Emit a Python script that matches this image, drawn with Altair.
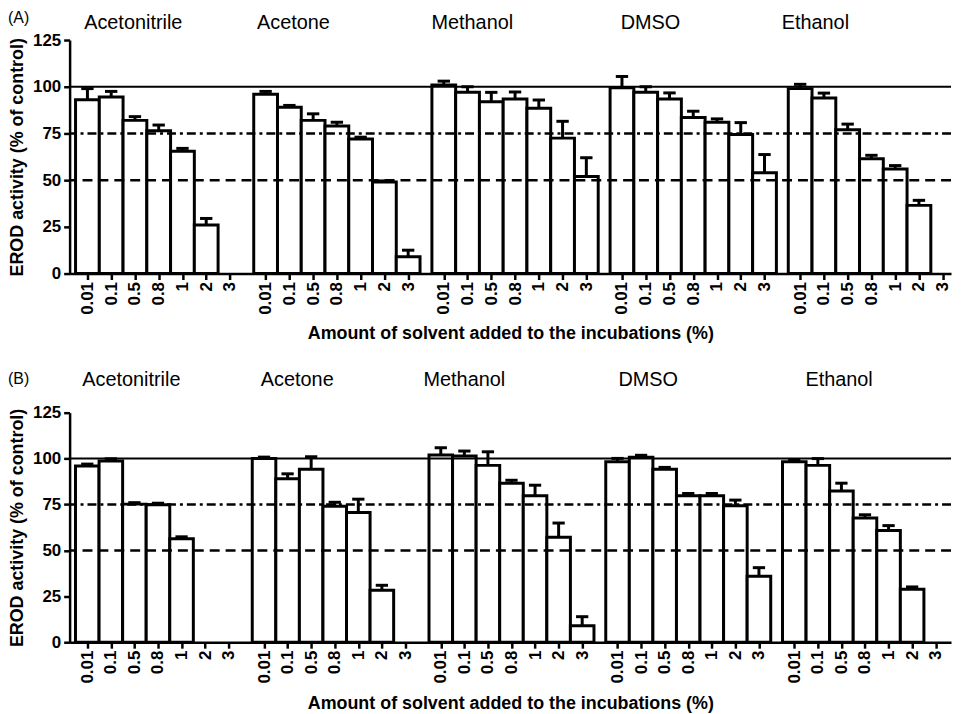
import json
import altair as alt
import pandas as pd

# ---------------- data ----------------
levels = ["0.01", "0.1", "0.5", "0.8", "1", "2", "3"]
solvents = ["Acetonitrile", "Acetone", "Methanol", "DMSO", "Ethanol"]

# Panel A : mean and upper error (None = no bar)
a_acetonitrile = [93, 94.5, 82, 76.5, 65.5, 26, None]
a_acetonitrile_err = [6, 3, 2, 3, 1.5, 3.5, None]
a_acetone = [96, 89, 82, 79, 72, 49, 9]
a_acetone_err = [1.5, 1, 3.5, 2, 1, 0.6, 3.5]
a_methanol = [101, 97, 92, 93.5, 88.5, 72.5, 52]
a_methanol_err = [2, 3, 5, 3.7, 4.4, 9, 10]
a_dmso = [99.5, 97, 93.5, 83.5, 81, 74.5, 54]
a_dmso_err = [6, 3, 3.2, 3.4, 1.8, 6.3, 9.7]
a_ethanol = [99, 94, 77, 61.5, 56, 36.5, None]
a_ethanol_err = [2.3, 2.6, 3, 1.8, 1.8, 2.7, None]

# Panel B
b_acetonitrile = [96, 98.7, 75.2, 74.9, 56.3, None, None]
b_acetonitrile_err = [1, 1.2, 0.8, 0.8, 1.1, None, None]
b_acetone = [100, 89, 94.2, 74, 70.7, 28.3, None]
b_acetone_err = [0.8, 2.7, 6.8, 2.2, 7.2, 2.7, None]
b_methanol = [101.9, 101.4, 96.3, 86.6, 79.7, 57.2, 9]
b_methanol_err = [4, 2.7, 7.4, 1.6, 5.8, 7.7, 4.9]
b_dmso = [98.3, 100.8, 94.2, 79.7, 79.7, 74.3, 35.9]
b_dmso_err = [1.8, 1, 1, 1.3, 1.3, 3.1, 4.7]
b_ethanol = [98.3, 96.3, 82.4, 67.6, 60.8, 28.8, None]
b_ethanol_err = [1, 3.7, 4.2, 1.8, 2.7, 1.3, None]

reference_levels = [100, 75, 50]

# ---------------- layout constants ----------------
GROUP_STEP = 7.5
label_x_a = [1.93, 8.67, 16.2, 23.7, 30.64]
label_x_b = [1.87, 8.91, 16.0, 23.8, 31.9]
FONT = "Liberation Sans"


def build_df(means, errs):
    rows = []
    for g, (m, e) in enumerate(zip(means, errs)):
        for i, lvl in enumerate(levels):
            pos = g * GROUP_STEP + i
            if m[i] is None:
                continue
            rows.append(dict(solvent=solvents[g], level=lvl, pos=pos,
                             x0=pos - 0.5, x1=pos + 0.5,
                             cl=pos - 0.26, cr=pos + 0.26,
                             base=0, val=m[i], top=m[i] + (e[i] or 0)))
    return pd.DataFrame(rows)


df_a = build_df([a_acetonitrile, a_acetone, a_methanol, a_dmso, a_ethanol],
                [a_acetonitrile_err, a_acetone_err, a_methanol_err, a_dmso_err, a_ethanol_err])
df_b = build_df([b_acetonitrile, b_acetone, b_methanol, b_dmso, b_ethanol],
                [b_acetonitrile_err, b_acetone_err, b_methanol_err, b_dmso_err, b_ethanol_err])

tick_positions = [g * GROUP_STEP + i for g in range(len(solvents)) for i in range(len(levels))]
label_expr = json.dumps(levels) + "[round(datum.value % " + str(GROUP_STEP) + ")]"


def panel(df, tag, label_x, height, xmax, label_dy, tag_dy, title_pad):
    xs = alt.Scale(domain=[-0.75, xmax], nice=False, zero=False, padding=0)
    ys = alt.Scale(domain=[0, 125], nice=False, padding=0)
    xaxis = alt.Axis(values=tick_positions, labelExpr=label_expr, labelAngle=-90,
                     labelFontSize=17, labelPadding=2, tickSize=6,
                     title="Amount of solvent added to the incubations (%)",
                     titlePadding=title_pad)
    yaxis = alt.Axis(values=[0, 25, 50, 75, 100, 125], labelFontSize=17,
                     labelPadding=3, tickSize=6,
                     title="EROD activity (% of control)", titlePadding=6)

    def X(f):
        return alt.X(f, type="quantitative", scale=xs, axis=xaxis)

    def Y(f):
        return alt.Y(f, type="quantitative", scale=ys, axis=yaxis)

    bars = alt.Chart(df).mark_rect(fill="white", stroke="black", strokeWidth=3).encode(
        x=X("x0"), x2="x1", y=Y("base"), y2="val")
    stems = alt.Chart(df).mark_rule(color="black", strokeWidth=3).encode(
        x=X("pos"), y=Y("val"), y2="top")
    caps = alt.Chart(df).mark_rule(color="black", strokeWidth=3).encode(
        x=X("cl"), x2="cr", y=Y("top"))

    refdf = pd.DataFrame({"y": reference_levels})
    solid = alt.Chart(refdf[refdf.y == reference_levels[0]]).mark_rule(
        color="black", strokeWidth=2).encode(y=Y("y"))
    dashdot = alt.Chart(refdf[refdf.y == reference_levels[1]]).mark_rule(
        color="black", strokeWidth=2.5, strokeDash=[9, 4, 3, 4]).encode(y=Y("y"))
    dashed = alt.Chart(refdf[refdf.y == reference_levels[2]]).mark_rule(
        color="black", strokeWidth=2.5, strokeDash=[10, 6]).encode(y=Y("y"))

    lab_df = pd.DataFrame({"lx": label_x, "name": solvents})
    labels = alt.Chart(lab_df).mark_text(font=FONT, fontSize=20, color="black",
                                         baseline="middle", align="center").encode(
        x=X("lx"), y=alt.value(label_dy), text="name:N")
    tag_txt = alt.Chart(pd.DataFrame({"t": [tag]})).mark_text(
        font=FONT, fontSize=16, color="black", align="left", baseline="middle").encode(
        x=alt.value(-62), y=alt.value(tag_dy), text="t:N")

    return alt.layer(bars, solid, dashdot, dashed, stems, caps, labels, tag_txt).properties(
        width=887, height=height)


pA = panel(df_a, "(A)", label_x_a, 235, 36.35, -17, -22, 10)
pB = panel(df_b, "(B)", label_x_b, 231, 36.65, -33, -34, 12)

chart = alt.vconcat(pA, pB, spacing=27).configure(
    padding={"left": 0, "top": 0, "right": 0, "bottom": 0}, font=FONT
).configure_view(stroke=None).configure_axis(
    grid=False, domainColor="black", domainWidth=2.5, tickColor="black", tickWidth=2.5,
    labelColor="black", labelFont=FONT, labelFontWeight="bold", labelFontSize=17,
    titleColor="black", titleFont=FONT, titleFontWeight="bold", titleFontSize=18,
)

chart.save("out.html", embed_options={"renderer": "svg", "actions": False})
